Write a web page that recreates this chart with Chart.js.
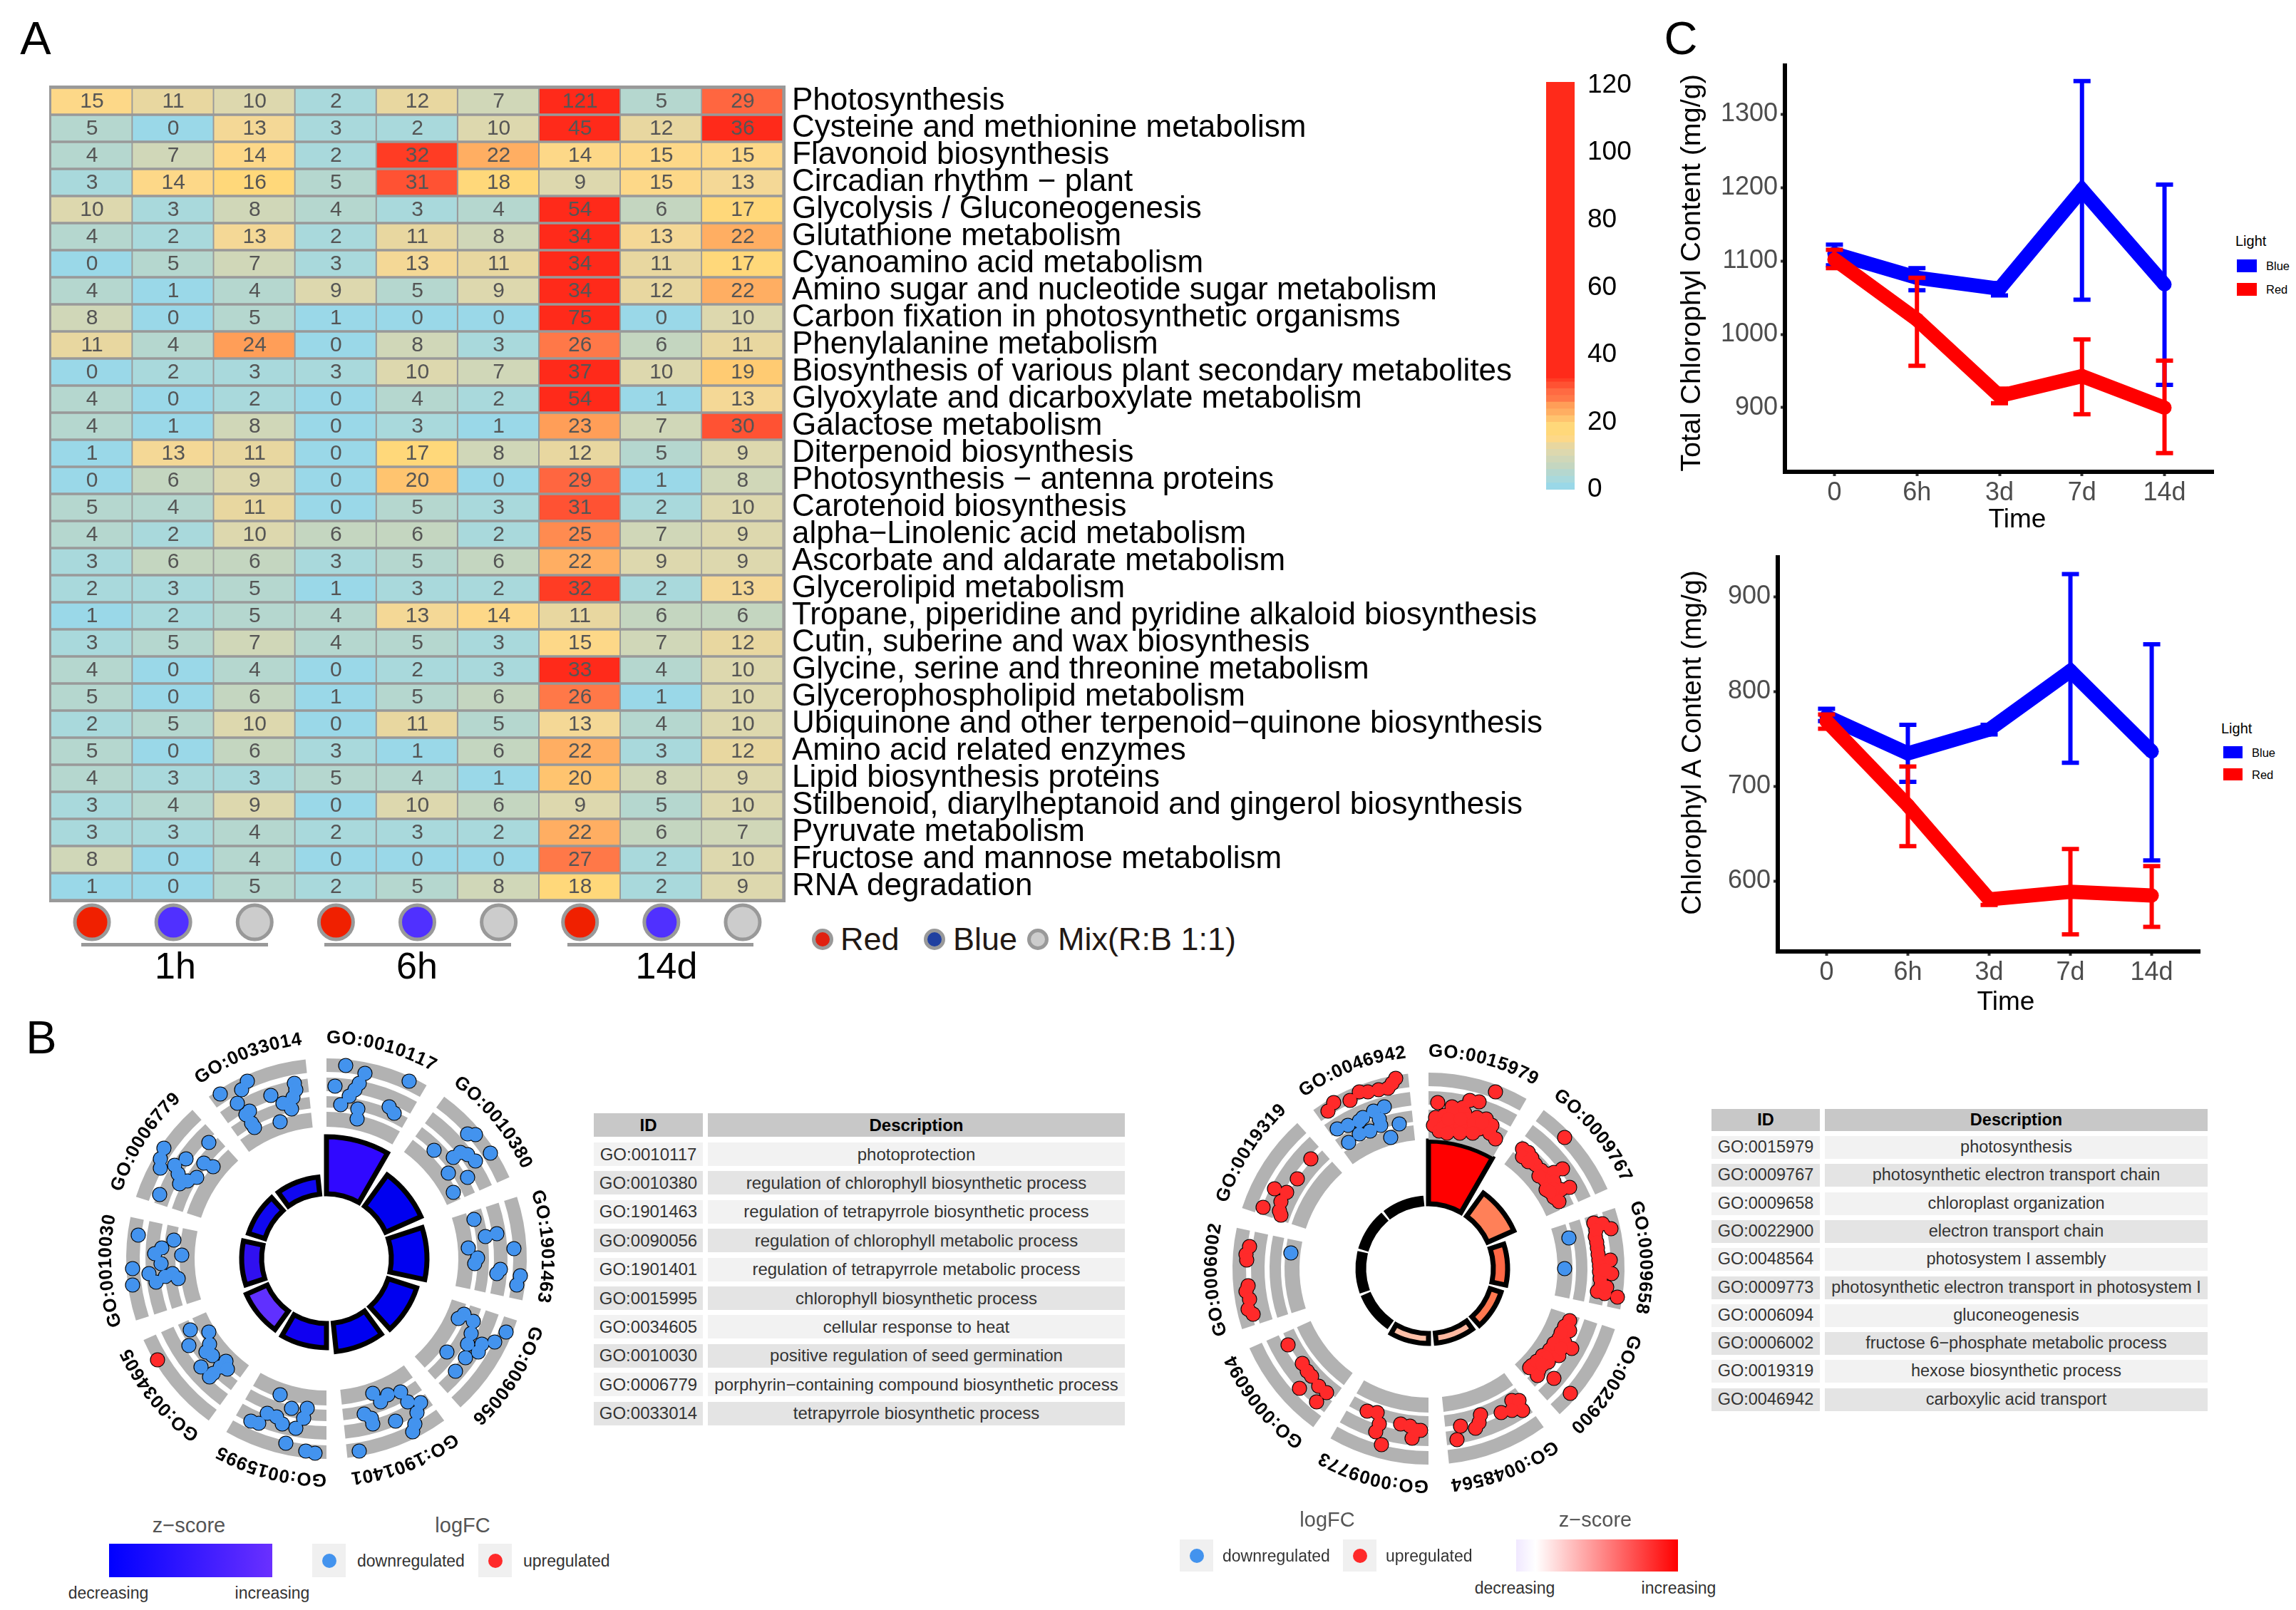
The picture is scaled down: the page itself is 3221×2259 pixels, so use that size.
<!DOCTYPE html>
<html>
<head>
<meta charset="utf-8">
<title>Chart</title>
<script src="https://cdn.jsdelivr.net/npm/chart.js@4"></script>
<style>
html, body { margin: 0; padding: 0; background: #fff; }
#page { position: relative; width: 3221px; height: 2259px; overflow: hidden; font-family: "Liberation Sans", Arial, sans-serif; }
#page canvas { position: absolute; }
.t { position: absolute; white-space: nowrap; line-height: 1; }
.box { position: absolute; }
</style>
</head>
<body>
<div id="page"></div>
<script>
// ---- panel A data ----
const pathways = [
    'Photosynthesis', 'Cysteine and methionine metabolism', 'Flavonoid biosynthesis', 'Circadian rhythm \u2212 plant',
    'Glycolysis / Gluconeogenesis', 'Glutathione metabolism', 'Cyanoamino acid metabolism',
    'Amino sugar and nucleotide sugar metabolism', 'Carbon fixation in photosynthetic organisms',
    'Phenylalanine metabolism', 'Biosynthesis of various plant secondary metabolites',
    'Glyoxylate and dicarboxylate metabolism', 'Galactose metabolism', 'Diterpenoid biosynthesis',
    'Photosynthesis \u2212 antenna proteins', 'Carotenoid biosynthesis', 'alpha\u2212Linolenic acid metabolism',
    'Ascorbate and aldarate metabolism', 'Glycerolipid metabolism',
    'Tropane, piperidine and pyridine alkaloid biosynthesis', 'Cutin, suberine and wax biosynthesis',
    'Glycine, serine and threonine metabolism', 'Glycerophospholipid metabolism',
    'Ubiquinone and other terpenoid\u2212quinone biosynthesis', 'Amino acid related enzymes',
    'Lipid biosynthesis proteins', 'Stilbenoid, diarylheptanoid and gingerol biosynthesis',
    'Pyruvate metabolism', 'Fructose and mannose metabolism', 'RNA degradation'
]
const counts = [
    [15, 11, 10, 2, 12, 7, 121, 5, 29],
    [5, 0, 13, 3, 2, 10, 45, 12, 36],
    [4, 7, 14, 2, 32, 22, 14, 15, 15],
    [3, 14, 16, 5, 31, 18, 9, 15, 13],
    [10, 3, 8, 4, 3, 4, 54, 6, 17],
    [4, 2, 13, 2, 11, 8, 34, 13, 22],
    [0, 5, 7, 3, 13, 11, 34, 11, 17],
    [4, 1, 4, 9, 5, 9, 34, 12, 22],
    [8, 0, 5, 1, 0, 0, 75, 0, 10],
    [11, 4, 24, 0, 8, 3, 26, 6, 11],
    [0, 2, 3, 3, 10, 7, 37, 10, 19],
    [4, 0, 2, 0, 4, 2, 54, 1, 13],
    [4, 1, 8, 0, 3, 1, 23, 7, 30],
    [1, 13, 11, 0, 17, 8, 12, 5, 9],
    [0, 6, 9, 0, 20, 0, 29, 1, 8],
    [5, 4, 11, 0, 5, 3, 31, 2, 10],
    [4, 2, 10, 6, 6, 2, 25, 7, 9],
    [3, 6, 6, 3, 5, 6, 22, 9, 9],
    [2, 3, 5, 1, 3, 2, 32, 2, 13],
    [1, 2, 5, 4, 13, 14, 11, 6, 6],
    [3, 5, 7, 4, 5, 3, 15, 7, 12],
    [4, 0, 4, 0, 2, 3, 33, 4, 10],
    [5, 0, 6, 1, 5, 6, 26, 1, 10],
    [2, 5, 10, 0, 11, 5, 13, 4, 10],
    [5, 0, 6, 3, 1, 6, 22, 3, 12],
    [4, 3, 3, 5, 4, 1, 20, 8, 9],
    [3, 4, 9, 0, 10, 6, 9, 5, 10],
    [3, 3, 4, 2, 3, 2, 22, 6, 7],
    [8, 0, 4, 0, 0, 0, 27, 2, 10],
    [1, 0, 5, 2, 5, 8, 18, 2, 9]
]
const conditionOrder = ['Red', 'Blue', 'Mix', 'Red', 'Blue', 'Mix', 'Red', 'Blue', 'Mix']
const conditionNames = ['Red', 'Blue', 'Mix']
const conditionFill = { Red: '#F02000', Blue: '#5030FF', Mix: '#CCCCCC' }
const colourbarTicks = [0, 20, 40, 60, 80, 100, 120]
const colourbarLevels = [0, 2, 4, 6, 8, 10, 12, 14, 16, 18, 20, 22, 24, 26, 28, 30, 32, 33]

// colour of each count
const countColours = ['#9AD8E8', '#9AD8E8', '#A9D9DC', '#A9D9DC', '#B5D7CF', '#B5D7CF', '#C4D6C0', '#D0D7B8', '#D0D7B8',
    '#DDD8AE', '#DDD8AE', '#E8D7A0', '#E8D7A0', '#F4D896', '#FDD888', '#FDD888', '#FFD87A', '#FFD87A', '#FFD87A',
    '#FFCB72', '#FFC46F', '#FFB868', '#FFAE62', '#FF9E58', '#FF9E58', '#FF8B50', '#FF7848', '#FF7848', '#FF6A42',
    '#FF6640', '#FF5233', '#FF5233', '#FF3C24', '#FF2A1A']

// ---- panel C data ----
const timeLabels = ['0', '6h', '3d', '7d', '14d']
const totalBlue = [1110, 1077, 1062, 1197, 1068]
const totalBlueLow = [1094, 1060, 1053, 1047, 931]
const totalBlueHigh = [1122, 1090, 1070, 1345, 1204]
const totalRed = [1102, 1020, 916, 943, 900]
const totalRedLow = [1090, 957, 906, 891, 838]
const totalRedHigh = [1115, 1077, 926, 993, 964]
const chlaBlue = [774, 735, 760, 822, 737]
const chlaBlueLow = [769, 705, 755, 725, 622]
const chlaBlueHigh = [782, 765, 765, 924, 850]
const chlaRed = [769, 680, 581, 589, 585]
const chlaRedLow = [761, 637, 575, 544, 552]
const chlaRedHigh = [776, 721, 586, 634, 616]

// ---- panel B data ----
const goIds1 = ['GO:0010117', 'GO:0010380', 'GO:1901463', 'GO:0090056', 'GO:1901401', 'GO:0015995', 'GO:0034605', 'GO:0010030', 'GO:0006779', 'GO:0033014']
const goDesc1 = ['photoprotection', 'regulation of chlorophyll biosynthetic process', 'regulation of tetrapyrrole biosynthetic process',
    'regulation of chlorophyll metabolic process', 'regulation of tetrapyrrole metabolic process', 'chlorophyll biosynthetic process',
    'cellular response to heat', 'positive regulation of seed germination', 'porphyrin\u2212containing compound biosynthetic process',
    'tetrapyrrole biosynthetic process']
const goCounts1 = [40, 27, 25, 21, 20, 17, 16, 14, 12, 12]
const goFill1 = ['#3008FF', '#0000F0', '#0000F0', '#0000F0', '#0000F0', '#1000F0', '#6030FF', '#3010F0', '#1008F0', '#1008F0']
const goIds2 = ['GO:0015979', 'GO:0009767', 'GO:0009658', 'GO:0022900', 'GO:0048564', 'GO:0009773', 'GO:0006094', 'GO:0006002', 'GO:0019319', 'GO:0046942']
const goDesc2 = ['photosynthesis', 'photosynthetic electron transport chain', 'chloroplast organization', 'electron transport chain',
    'photosystem I assembly', 'photosynthetic electron transport in photosystem I', 'gluconeogenesis',
    'fructose 6\u2212phosphate metabolic process', 'hexose biosynthetic process', 'carboxylic acid transport']
const goCounts2 = [44, 20, 10, 8, 7, 7, 4, 4, 4, 4]
const goFill2 = ['#FF0000', '#FF8058', '#FF6845', '#FF7850', '#FFB8A0', '#FFC0A8', '#000000', '#000000', '#000000', '#000000']

// gene dots (units: plot units out from the circle centre)
const dots1Down = [
    [27, 271], [54, 260], [116, 249], [12, 242], [46, 246], [40, 237], [32, 228], [20, 216], [44, 210], [43, 196], [88, 213], [95, 204],
    [198, 175], [209, 174], [230, 148], [151, 152], [178, 142], [188, 149], [198, 146], [209, 137], [171, 120], [198, 114], [178, 93],
    [207, 55], [223, 31], [239, 35], [263, 14], [199, 15], [212, 1], [208, -7], [244, -15], [239, -21], [272, -24], [267, -37],
    [193, -78], [185, -84], [206, -88], [252, -103], [203, -105], [236, -117], [198, -120], [218, -120], [213, -131], [169, -131], [195, -139], [181, -158],
    [65, -189], [86, -191], [104, -187], [76, -201], [114, -201], [132, -202], [127, -216], [53, -218], [63, -224], [65, -232], [97, -228], [124, -232], [121, -243], [46, -270],
    [-65, -191], [-83, -217], [-27, -210], [-49, -210], [-70, -222], [-32, -224], [-62, -232], [-106, -228], [-95, -231], [-43, -238], [-57, -259], [-29, -270], [-16, -273],
    [-191, -100], [-165, -103], [-193, -122], [-164, -120], [-169, -131], [-160, -136], [-141, -144], [-149, -152], [-139, -155], [-176, -152], [-159, -161], [-164, -166],
    [-264, 33], [-214, 26], [-231, 15], [-241, 7], [-203, 5], [-232, -7], [-272, -14], [-249, -21], [-216, -21], [-208, -28], [-226, -25], [-239, -33], [-272, -37],
    [-228, 155], [-165, 163], [-233, 140], [-233, 127], [-197, 140], [-213, 131], [-172, 134], [-159, 129], [-208, 119], [-182, 114], [-195, 109], [-206, 105], [-234, 90],
    [-149, 231], [-111, 249], [-119, 237], [-125, 218], [-78, 229], [-45, 246], [-43, 237], [-47, 226], [-61, 218], [-49, 210], [-108, 207], [-113, 202], [-105, 190], [-101, 184], [-65, 192]
]
const dots1Up = [[-237, -142]]
const dots2Down = [
    [197, 43], [191, 0], [-193, 22],
    [-62, 227], [-77, 221], [-92, 212], [-69, 210], [-97, 207], [-113, 201], [-128, 196], [-41, 203], [-67, 201], [-82, 193], [-97, 189], [-53, 184], [-112, 177]
]
const dots2Up = [
    [94, 248], [13, 233], [33, 227], [58, 236], [71, 234], [48, 226], [10, 212], [22, 215], [35, 218], [51, 218], [7, 201], [22, 204], [38, 207], [53, 210], [68, 212], [81, 210], [89, 201], [15, 193], [35, 196], [56, 196], [71, 196], [86, 190], [94, 182],
    [20, 198], [28, 210], [45, 200], [45, 210], [64, 203], [78, 200], [75, 205], [62, 190], [44, 190], [26, 190],
    [191, 184], [132, 168], [140, 163], [132, 157], [145, 155], [150, 146], [158, 138], [165, 133], [188, 140], [176, 135], [163, 125], [176, 122], [198, 114], [186, 111], [165, 111], [176, 100], [183, 94],
    [140, 150], [155, 130], [175, 112], [170, 108],
    [232, 64], [244, 63], [256, 56], [234, 45], [237, 29], [239, 12], [255, 12], [240, -4], [257, -7], [242, -24], [237, -32], [247, -35], [265, -40],
    [235, 54], [236, 37], [238, 20], [240, 4], [241, -14], [248, -2], [250, -26],
    [198, -73], [191, -81], [198, -87], [183, -98], [191, -103], [201, -112], [170, -114], [183, -122], [160, -122], [168, -131], [145, -136], [155, -142], [142, -139], [153, -150], [176, -154], [199, -175],
    [186, -90], [176, -105], [186, -112], [165, -125], [152, -130], [160, -135],
    [117, -185], [127, -185], [132, -199], [117, -199], [102, -202], [73, -205], [71, -216], [66, -224], [45, -221], [40, -240],
    [-86, -200], [-72, -202], [-69, -218], [-74, -229], [-66, -247], [-39, -218], [-26, -221], [-11, -227], [-23, -238], [-16, -227],
    [-197, -107], [-177, -133], [-170, -144], [-164, -151], [-181, -168], [-154, -165], [-143, -174], [-157, -187],
    [-251, 31], [-256, 20], [-255, 12], [-253, -24], [-256, -32], [-251, -43], [-253, -57], [-246, -64],
    [-165, 154], [-184, 126], [-216, 112], [-199, 107], [-207, 94], [-232, 86], [-209, 81], [-207, 75],
    [-46, 267], [-57, 253], [-70, 251], [-97, 248], [-85, 248], [-110, 236], [-133, 233], [-141, 221], [-51, 260]
]

//--------------------------------------------------------------------------------

const FONT = '"Liberation Sans", Arial, sans-serif'
const page = document.getElementById('page')
Chart.defaults.font.family = FONT
Chart.defaults.animation = false
Chart.defaults.layout.autoPadding = false

function makeCanvas(x, y, w, h) {
    const canvas = document.createElement('canvas')
    canvas.width = w
    canvas.height = h
    canvas.style.left = x + 'px'
    canvas.style.top = y + 'px'
    canvas.style.width = w + 'px'
    canvas.style.height = h + 'px'
    page.appendChild(canvas)
    return canvas.getContext('2d')
}

function addText(text, x, y, size, opts = {}) {
    const el = document.createElement('div')
    el.className = 't'
    el.textContent = text
    el.style.left = x + 'px'
    el.style.top = y + 'px'
    el.style.fontSize = size + 'px'
    el.style.color = opts.color || '#000'
    if (opts.bold) el.style.fontWeight = 'bold'
    if (opts.spacing) el.style.letterSpacing = opts.spacing + 'px'
    el.style.transform = opts.left ? 'translate(0,-50%)' : 'translate(-50%,-50%)' + (opts.rotate ? ' rotate(' + opts.rotate + 'deg)' : '')
    page.appendChild(el)
}

function addBox(x, y, w, h, css) {
    const el = document.createElement('div')
    el.className = 'box'
    el.style.left = x + 'px'
    el.style.top = y + 'px'
    el.style.width = w + 'px'
    el.style.height = h + 'px'
    Object.assign(el.style, css)
    page.appendChild(el)
}

function colourFor(v) {
    return countColours[Math.min(v, countColours.length - 1)]
}

// axis boxes get a fixed size so the plot area lands where it should
function fixBox(scale, size) {
    if (scale.isHorizontal()) scale.height = size
    else scale.width = size
    scale.paddingLeft = scale.paddingRight = scale.paddingTop = scale.paddingBottom = 0
}

//--------------------------------------------------------------------------------
// panel A heatmap

const heatmapPlugin = {
    id: 'heatmapCells',
    beforeDatasetsDraw(chart) {
        const a = chart.chartArea
        chart.ctx.fillStyle = '#999999'
        chart.ctx.fillRect(a.left - 3, a.top - 3, a.right - a.left + 6, a.bottom - a.top + 6)
    },
    afterDatasetsDraw(chart) {
        const ctx = chart.ctx
        ctx.save()
        ctx.font = '30px ' + FONT
        ctx.fillStyle = '#555'
        ctx.textAlign = 'center'
        ctx.textBaseline = 'middle'
        chart.data.datasets.forEach((ds, col) => {
            chart.getDatasetMeta(col).data.forEach((bar, row) => {
                const c = bar.getCenterPoint()
                ctx.fillText(String(counts[row][col]), c.x, c.y + 1)
            })
        })
        ctx.restore()
    }
}

new Chart(makeCanvas(69, 120, 2116, 1146), {
    type: 'bar',
    data: {
        labels: pathways,
        datasets: conditionOrder.map((name, col) => ({
            label: name + col,
            data: pathways.map(() => 1),
            backgroundColor: counts.map(row => colourFor(row[col])),
            borderColor: '#999999',
            borderWidth: 2,
            barPercentage: 1,
            categoryPercentage: 1
        }))
    },
    options: {
        indexAxis: 'y',
        responsive: false,
        layout: { padding: { left: 3, top: 3, bottom: 3 } },
        plugins: { legend: { display: false }, tooltip: { enabled: false } },
        scales: {
            x: { stacked: true, min: 0, max: 9, display: false },
            y: {
                stacked: true,
                position: 'right',
                afterFit: s => fixBox(s, 1086),
                grid: { display: false },
                border: { display: false },
                ticks: { autoSkip: false, padding: 4, color: '#000', font: { size: 44 } }
            }
        }
    },
    plugins: [heatmapPlugin]
})

// light-condition markers under the heatmap columns
new Chart(makeCanvas(72, 1264, 1027, 60), {
    type: 'scatter',
    data: {
        datasets: conditionNames.map(name => ({
            label: name,
            data: conditionOrder.map((c, i) => (c === name ? { x: i + 0.5, y: 0 } : null)).filter(Boolean),
            pointRadius: 24,
            pointBackgroundColor: conditionFill[name],
            pointBorderColor: '#999999',
            pointBorderWidth: 5
        }))
    },
    options: {
        responsive: false,
        plugins: { legend: { display: false }, tooltip: { enabled: false } },
        scales: {
            x: { min: 0, max: 9, display: false },
            y: { min: -1, max: 1, display: false }
        }
    }
})

// colour bar, drawn as floating bars on its own value axis
const BAR_MAX = 121
new Chart(makeCanvas(2165, 100, 130, 600), {
    type: 'bar',
    data: {
        labels: ['count'],
        datasets: colourbarLevels.map((v, i) => ({
            data: [[v, colourbarLevels[i + 1] ?? BAR_MAX]],
            backgroundColor: colourFor(v),
            grouped: false,
            barPercentage: 1,
            categoryPercentage: 1
        }))
    },
    options: {
        responsive: false,
        layout: { padding: { left: 4, top: 15, bottom: 13 } },
        plugins: { legend: { display: false }, tooltip: { enabled: false } },
        scales: {
            x: { display: false },
            y: {
                position: 'right',
                min: 0,
                max: BAR_MAX,
                afterFit: s => fixBox(s, 86),
                afterBuildTicks: s => { s.ticks = colourbarTicks.map(value => ({ value })) },
                grid: { display: false },
                border: { display: false },
                ticks: { padding: 10, color: '#000', font: { size: 37 } }
            }
        }
    }
})

//--------------------------------------------------------------------------------
// panel C line charts

const errorBarPlugin = {
    id: 'errorBars',
    afterDatasetDraw(chart, args) {
        const ds = chart.data.datasets[args.index]
        const { x, y } = chart.scales
        const ctx = chart.ctx
        ctx.save()
        ctx.strokeStyle = ds.borderColor
        ctx.lineWidth = 6
        ds.errLow.forEach((low, i) => {
            const px = x.getPixelForValue(i)
            const top = y.getPixelForValue(ds.errHigh[i])
            const bottom = y.getPixelForValue(low)
            ctx.beginPath()
            ctx.moveTo(px, top)
            ctx.lineTo(px, bottom)
            ctx.moveTo(px - 12, top)
            ctx.lineTo(px + 12, top)
            ctx.moveTo(px - 12, bottom)
            ctx.lineTo(px + 12, bottom)
            ctx.stroke()
        })
        ctx.restore()
    }
}

function lineChart(box, yMin, yMax, yTicks, blue, blueLow, blueHigh, red, redLow, redHigh) {
    const series = (label, colour, values, low, high, order) => ({
        label,
        data: values.map((v, i) => ({ x: i, y: v })),
        errLow: low,
        errHigh: high,
        borderColor: colour,
        backgroundColor: colour,
        borderWidth: 20,
        pointRadius: 10,
        pointBorderWidth: 0,
        order,
        clip: false
    })
    new Chart(makeCanvas(box.left, box.top, box.width, box.height), {
        type: 'line',
        data: {
            datasets: [
                series('Blue', '#0000FF', blue, blueLow, blueHigh, 2),
                series('Red', '#FF0000', red, redLow, redHigh, 1)
            ]
        },
        options: {
            responsive: false,
            plugins: { legend: { display: false }, tooltip: { enabled: false } },
            scales: {
                x: {
                    type: 'linear',
                    min: -0.6,
                    max: 4.6,
                    afterFit: s => fixBox(s, box.xAxis),
                    afterBuildTicks: s => { s.ticks = timeLabels.map((_, value) => ({ value })) },
                    grid: { drawOnChartArea: false, tickLength: 6, tickColor: '#333', tickWidth: 4 },
                    border: { color: '#000', width: 6 },
                    ticks: { padding: 2, color: '#4D4D4D', font: { size: 36 }, maxRotation: 0, callback: v => timeLabels[v] }
                },
                y: {
                    min: yMin,
                    max: yMax,
                    afterFit: s => fixBox(s, box.yAxis),
                    afterBuildTicks: s => { s.ticks = yTicks.map(value => ({ value })) },
                    grid: { drawOnChartArea: false, tickLength: 6, tickColor: '#333', tickWidth: 4 },
                    border: { color: '#000', width: 6 },
                    ticks: { padding: 4, color: '#4D4D4D', font: { size: 36 }, callback: v => String(v) }
                }
            }
        },
        plugins: [errorBarPlugin]
    })
}

lineChart({ left: 2350, top: 89, width: 756, height: 660, yAxis: 154, xAxis: 87 },
    812.6, 1369, [900, 1000, 1100, 1200, 1300],
    totalBlue, totalBlueLow, totalBlueHigh, totalRed, totalRedLow, totalRedHigh)
lineChart({ left: 2350, top: 779, width: 737, height: 647, yAxis: 144, xAxis: 91 },
    526, 944, [600, 700, 800, 900],
    chlaBlue, chlaBlueLow, chlaBlueHigh, chlaRed, chlaRedLow, chlaRedHigh)

// axis titles sit off the plot centre in the reference, so they are placed by hand
addText('Total Chlorophyl Content (mg/g)', 2372, 383, 39.5, { rotate: -90 })
addText('Time', 2830, 727, 37)
addText('Chlorophyl A Content (mg/g)', 2373, 1042, 38.5, { rotate: -90 })
addText('Time', 2814, 1404, 37)

//--------------------------------------------------------------------------------
// panel B circle plots: polar area for the tracks and bars, scatter on top for the dots

const SPAN = 30, GAP = 6, HOLE = 91, PX_PER_GENE = 2, CANVAS_R = 350
const toValue = px => (px - HOLE) / PX_PER_GENE

const ringPlugin = {
    id: 'ringArcs',
    beforeDatasetsDraw(chart) {
        chart.data.datasets.forEach((ds, i) => {
            chart.getDatasetMeta(i).data.forEach(arc => { arc.innerRadius = ds.innerPx })
        })
    },
    afterDraw(chart, args, opts) {
        // term ids bent along the outer edge, one glyph at a time
        const ctx = chart.ctx
        const cx = chart.scales.r.xCenter, cy = chart.scales.r.yCenter
        ctx.save()
        ctx.font = 'bold 26px ' + FONT
        ctx.fillStyle = '#000'
        ctx.textAlign = 'left'
        ctx.textBaseline = 'alphabetic'
        opts.ids.forEach((id, i) => {
            let angle = (i * (SPAN + GAP)) * Math.PI / 180
            for (const ch of id) {
                const w = ctx.measureText(ch).width
                ctx.save()
                ctx.translate(cx, cy)
                ctx.rotate(angle)
                ctx.fillText(ch, 0, -opts.labelRadius)
                ctx.restore()
                angle += (w + 0.6) / opts.labelRadius
            }
        })
        ctx.restore()
    }
}

function circlePlot(cx, cy, bands, ids, geneCounts, fills, borderWidth, labelRadius, down, up) {
    const size = CANVAS_R * 2
    const trackSets = bands.map(([inner, outer]) => ({
        data: ids.flatMap(() => [toValue(outer), toValue(HOLE)]),
        innerPx: inner,
        angle: c => (c.dataIndex % 2 ? GAP : SPAN),
        backgroundColor: c => (c.dataIndex % 2 ? 'rgba(0,0,0,0)' : '#B2B2B2'),
        borderWidth: 0
    }))
    const barSet = {
        data: geneCounts.flatMap(v => [v, 0]),
        innerPx: HOLE,
        angle: c => (c.dataIndex % 2 ? GAP : SPAN),
        backgroundColor: c => (c.dataIndex % 2 ? 'rgba(0,0,0,0)' : fills[c.dataIndex / 2]),
        borderColor: '#000',
        borderWidth: c => (c.dataIndex % 2 ? 0 : borderWidth),
        borderJoinStyle: 'miter'
    }
    new Chart(makeCanvas(cx - CANVAS_R, cy - CANVAS_R, size, size), {
        type: 'polarArea',
        data: { labels: ids.flatMap(id => [id, '']), datasets: [...trackSets, barSet] },
        options: {
            responsive: false,
            plugins: {
                legend: { display: false },
                tooltip: { enabled: false },
                ringArcs: { ids, labelRadius }
            },
            scales: { r: { display: false, min: -HOLE / PX_PER_GENE, max: (CANVAS_R - HOLE) / PX_PER_GENE } }
        },
        plugins: [ringPlugin]
    })

    const toPoints = list => list.map(([x, y]) => ({ x, y }))
    const dotSets = [[down, '#4393EE'], [up, '#FF2A2A']].flatMap(([list, colour], i) => [
        { data: toPoints(list), pointRadius: 9.5, pointBackgroundColor: colour, pointBorderWidth: 0, order: i * 2 },
        { data: toPoints(list), pointRadius: 10.6, pointBackgroundColor: '#000', pointBorderWidth: 0, order: i * 2 + 1 }
    ])
    new Chart(makeCanvas(cx - CANVAS_R, cy - CANVAS_R, size, size), {
        type: 'scatter',
        data: { datasets: dotSets },
        options: {
            responsive: false,
            plugins: { legend: { display: false }, tooltip: { enabled: false } },
            scales: {
                x: { min: -CANVAS_R, max: CANVAS_R, display: false },
                y: { min: -CANVAS_R, max: CANVAS_R, display: false }
            }
        }
    })
}

circlePlot(458, 1766, [[185, 206], [212, 228], [235, 254], [262, 281]],
    goIds1, goCounts1, goFill1, 7, 302, dots1Down, dots1Up)
circlePlot(2004, 1780, [[181, 202], [207, 223], [230, 249], [256, 275]],
    goIds2, goCounts2, goFill2, 7, 297, dots2Down, dots2Up)

//--------------------------------------------------------------------------------
// tables and all the text around the charts

function goTable(idLeft, idRight, descLeft, descRight, headTop, headHeight, rowTop, rowPitch, rowHeight, size, ids, descs) {
    const idW = idRight - idLeft, descW = descRight - descLeft
    addBox(idLeft, headTop, idW, headHeight, { background: '#C8C8C8' })
    addBox(descLeft, headTop, descW, headHeight, { background: '#C8C8C8' })
    addText('ID', idLeft + idW / 2, headTop + headHeight / 2, size, { bold: true })
    addText('Description', descLeft + descW / 2, headTop + headHeight / 2, size, { bold: true })
    ids.forEach((id, i) => {
        const y = rowTop + i * rowPitch
        const bg = i % 2 ? '#E4E4E4' : '#F2F2F2'
        addBox(idLeft, y, idW, rowHeight, { background: bg })
        addBox(descLeft, y, descW, rowHeight, { background: bg })
        addText(id, idLeft + idW / 2, y + rowHeight / 2, size, { color: '#333' })
        addText(descs[i], descLeft + descW / 2, y + rowHeight / 2, size, { color: '#333' })
    })
}
goTable(833, 986, 993, 1578, 1562, 33, 1603, 40.4, 33, 24, goIds1, goDesc1)
goTable(2401, 2553, 2560, 3097, 1556, 31, 1594, 39.3, 32, 23.5, goIds2, goDesc2)

// panel letters
addText('A', 50, 53, 65)
addText('B', 58, 1455, 65)
addText('C', 2358, 53, 65)

// group bars and labels under the heatmap
;[[114, 376, '1h', 246], [455, 717, '6h', 585], [796, 1057, '14d', 935]].forEach(([x0, x1, label, cx]) => {
    addBox(x0, 1323, x1 - x0, 5, { background: '#999999' })
    addText(label, cx, 1355, 52)
})

// light legend
;[[1154, '#E02010', 'Red', 1179], [1311, '#2040A0', 'Blue', 1337], [1456, '#CCCCCC', 'Mix(R:B 1:1)', 1484]].forEach(([cx, fill, label, tx]) => {
    addBox(cx - 15, 1303, 20, 20, { background: fill, border: '5px solid #999999', borderRadius: '50%' })
    addText(label, tx, 1317, 45, { left: true, color: '#221814' })
})

// line chart legends
function lightLegend(titleX, titleY, sx, sw, sh, yBlue, yRed, tx) {
    addText('Light', titleX, titleY, 20, { left: true })
    addBox(sx, yBlue, sw, sh, { background: '#0000FF' })
    addBox(sx, yRed, sw, sh, { background: '#FF0000' })
    addText('Blue', tx, yBlue + sh / 2, 16.5, { left: true })
    addText('Red', tx, yRed + sh / 2, 16.5, { left: true })
}
lightLegend(3136, 338, 3138, 28, 18, 364, 397, 3179)
lightLegend(3116, 1022, 3119, 27, 17, 1047, 1078, 3159)

// circle plot legends
const GREY = '#555'
function keyBox(left, top, h, colour, label, textLeft, size) {
    addBox(left, top, 47, h, { background: '#F0F0F0' })
    addBox(left + 13.5, top + h / 2 - 10, 20, 20, { background: colour, borderRadius: '50%' })
    addText(label, textLeft, top + h / 2, size, { left: true, color: '#333' })
}
addText('z\u2212score', 265, 2140, 29, { color: GREY })
addBox(153, 2166, 229, 47, { background: 'linear-gradient(90deg, #0000FF, #6A30FF)' })
addText('decreasing', 152, 2235, 23, { color: '#333' })
addText('increasing', 382, 2235, 23, { color: '#333' })
addText('logFC', 649, 2140, 29, { color: GREY })
keyBox(438, 2166, 47, '#4393EE', 'downregulated', 501, 23)
keyBox(671, 2166, 47, '#FF2A2A', 'upregulated', 734, 23)

addText('logFC', 1862, 2132, 29, { color: GREY })
keyBox(1655, 2160, 45, '#4393EE', 'downregulated', 1715, 23)
keyBox(1884, 2160, 45, '#FF2A2A', 'upregulated', 1944, 23)
addText('z\u2212score', 2238, 2132, 29, { color: GREY })
addBox(2127, 2160, 227, 45, { background: 'linear-gradient(90deg, #F0E8FF 0%, #FFFFFF 12%, #FF0000 100%)' })
addText('decreasing', 2125, 2228, 23, { color: '#333' })
addText('increasing', 2355, 2228, 23, { color: '#333' })
</script>
</body>
</html>
